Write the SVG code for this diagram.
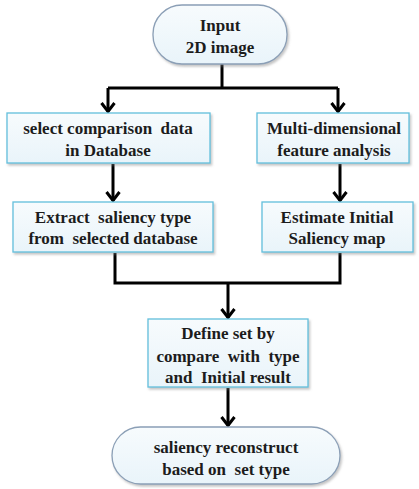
<svg xmlns="http://www.w3.org/2000/svg" width="419" height="489" viewBox="0 0 419 489">
  <style>
    .box { fill: url(#fillGrad); stroke: #62bfdc; stroke-width: 1.3; filter: url(#shadow); }
    .term { fill: url(#fillGrad); stroke: #8b9fb6; stroke-width: 1.3; filter: url(#shadow); }
    .label { font-family: "Liberation Serif", "Times New Roman", serif; font-weight: 700; font-size: 17px; fill: #1c1c1c; text-anchor: middle; white-space: pre; }
    .wire { fill: none; stroke: #000; stroke-width: 3; }
    .arrow { fill: none; stroke: #000; stroke-width: 3; marker-end: url(#chevron); }
  </style>
  <defs>
    <linearGradient id="fillGrad" x1="0" y1="0" x2="0" y2="1">
      <stop offset="0" stop-color="#f7fbfd"/>
      <stop offset="1" stop-color="#e9f4fa"/>
    </linearGradient>
    <filter id="shadow" x="-10%" y="-10%" width="120%" height="130%">
      <feDropShadow dx="1.5" dy="2" stdDeviation="1.2" flood-color="#7f7f7f" flood-opacity="0.45"/>
    </filter>
    <!-- open chevron head, drawn pointing along +x so orient="auto" follows the line -->
    <marker id="chevron" markerUnits="userSpaceOnUse" viewBox="0 0 12 16" refX="11" refY="8" markerWidth="12" markerHeight="16" orient="auto">
      <polyline points="2,1.5 10.5,8 2,14.5" fill="none" stroke="#000" stroke-width="3"/>
    </marker>
  </defs>

  <!-- connectors -->
  <g id="connectors">
    <polyline class="wire" points="222,64 222,88"/>
    <polyline class="wire" points="108,88 338,88"/>
    <line class="arrow" x1="108" y1="88" x2="108" y2="112"/>
    <line class="arrow" x1="338" y1="88" x2="338" y2="112"/>
    <line class="arrow" x1="113" y1="164" x2="113" y2="201"/>
    <line class="arrow" x1="340" y1="164" x2="340" y2="201"/>
    <polyline class="wire" points="115,253 115,283 340,283 340,253"/>
    <line class="arrow" x1="228" y1="283" x2="228" y2="318"/>
    <line class="arrow" x1="228" y1="388" x2="228" y2="426"/>
  </g>

  <g id="input">
    <rect class="term" x="153" y="5" width="134" height="59" rx="29" ry="29"/>
    <text class="label" x="220" y="31">Input</text>
    <text class="label" x="220" y="53">2D image</text>
  </g>

  <g id="select-data">
    <rect class="box" x="7" y="113" width="203" height="50"/>
    <text class="label" x="108" y="134">select comparison  data</text>
    <text class="label" x="108" y="156">in Database</text>
  </g>

  <g id="feature-analysis">
    <rect class="box" x="257" y="113" width="152" height="50"/>
    <text class="label" x="334" y="134">Multi-dimensional</text>
    <text class="label" x="334" y="156">feature analysis</text>
  </g>

  <g id="extract-type">
    <rect class="box" x="13" y="202" width="200" height="50"/>
    <text class="label" x="113" y="223">Extract  saliency type</text>
    <text class="label" x="113" y="244">from  selected database</text>
  </g>

  <g id="initial-map">
    <rect class="box" x="262" y="202" width="151" height="50"/>
    <text class="label" x="337" y="223">Estimate Initial</text>
    <text class="label" x="337" y="244">Saliency map</text>
  </g>

  <g id="define-set">
    <rect class="box" x="148" y="319" width="160" height="68"/>
    <text class="label" x="228" y="339">Define set by</text>
    <text class="label" x="228" y="362">compare  with  type</text>
    <text class="label" x="228" y="383">and  Initial result</text>
  </g>

  <g id="reconstruct">
    <rect class="term" x="112" y="427" width="228" height="57" rx="28.5" ry="28.5"/>
    <text class="label" x="226" y="453">saliency reconstruct</text>
    <text class="label" x="226" y="475">based on  set type</text>
  </g>
</svg>
